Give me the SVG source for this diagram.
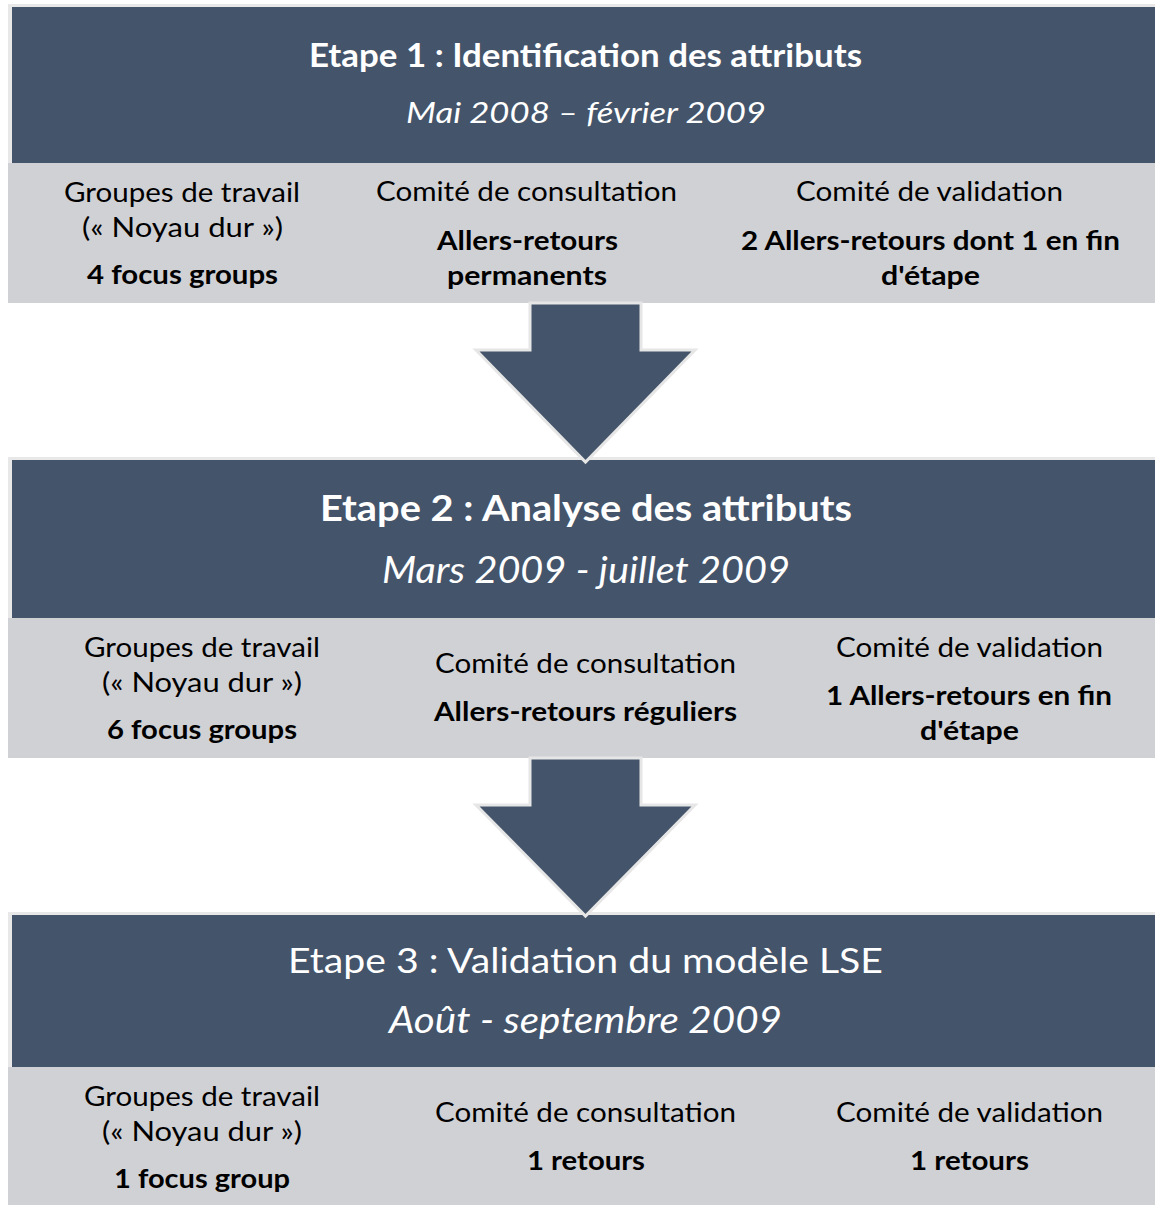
<svg xmlns="http://www.w3.org/2000/svg" width="1155" height="1205" viewBox="0 0 1155 1205">
<style>
text{font-family:Lato,"Open Sans","Liberation Sans",sans-serif;text-anchor:middle}
.frame{fill:#e8e8e8}
.head{fill:#44546a}
.band{fill:#d0d1d5}
.t{fill:#ffffff}
.b{font-weight:bold}
.i{font-style:italic}
.g{fill:#000000;font-size:26px}
.arrow{fill:#44546a;stroke:#e6e6e6;stroke-width:3;stroke-linejoin:miter}
</style>
<rect width="1155" height="1205" fill="#ffffff"/>

<g id="etape1">
<rect class="frame" x="8" y="4" width="1147" height="160"/>
<rect class="head" x="12" y="7" width="1143" height="156"/>
<rect class="band" x="8" y="163" width="1147" height="140"/>
<text class="t b" x="585.5" y="67" font-size="32" textLength="553" lengthAdjust="spacingAndGlyphs">Etape 1 : Identification des attributs</text>
<text class="t i" x="586" y="123" font-size="28" textLength="360" lengthAdjust="spacingAndGlyphs">Mai 2008 – février 2009</text>
<text class="g" x="182" y="202" textLength="236" lengthAdjust="spacingAndGlyphs">Groupes de travail</text>
<text class="g" x="182.5" y="237" textLength="201" lengthAdjust="spacingAndGlyphs">(« Noyau dur »)</text>
<text class="g b" x="182.5" y="284" textLength="191" lengthAdjust="spacingAndGlyphs">4 focus groups</text>
<text class="g" x="526.5" y="201" textLength="301" lengthAdjust="spacingAndGlyphs">Comité de consultation</text>
<text class="g b" x="527.5" y="250" textLength="181" lengthAdjust="spacingAndGlyphs">Allers-retours</text>
<text class="g b" x="527" y="285" textLength="160" lengthAdjust="spacingAndGlyphs">permanents</text>
<text class="g" x="929.5" y="201" textLength="267" lengthAdjust="spacingAndGlyphs">Comité de validation</text>
<text class="g b" x="930.5" y="250" textLength="379" lengthAdjust="spacingAndGlyphs">2 Allers-retours dont 1 en fin</text>
<text class="g b" x="930.5" y="285" textLength="99" lengthAdjust="spacingAndGlyphs">d'étape</text>
</g>

<g id="etape2">
<rect class="frame" x="8" y="457" width="1147" height="162"/>
<rect class="head" x="12" y="460" width="1143" height="158"/>
<rect class="band" x="8" y="618" width="1147" height="140"/>
<text class="t b" x="586" y="521" font-size="36" textLength="532" lengthAdjust="spacingAndGlyphs">Etape 2 : Analyse des attributs</text>
<text class="t i" x="586" y="583" font-size="36" textLength="408" lengthAdjust="spacingAndGlyphs">Mars 2009 - juillet 2009</text>
<text class="g" x="202" y="657" textLength="236" lengthAdjust="spacingAndGlyphs">Groupes de travail</text>
<text class="g" x="202" y="692" textLength="200" lengthAdjust="spacingAndGlyphs">(« Noyau dur »)</text>
<text class="g b" x="202" y="739" textLength="190" lengthAdjust="spacingAndGlyphs">6 focus groups</text>
<text class="g" x="585.5" y="673" textLength="301" lengthAdjust="spacingAndGlyphs">Comité de consultation</text>
<text class="g b" x="585.5" y="721" textLength="303" lengthAdjust="spacingAndGlyphs">Allers-retours réguliers</text>
<text class="g" x="969.5" y="657" textLength="267" lengthAdjust="spacingAndGlyphs">Comité de validation</text>
<text class="g b" x="969" y="705" textLength="286" lengthAdjust="spacingAndGlyphs">1 Allers-retours en fin</text>
<text class="g b" x="969.5" y="740" textLength="99" lengthAdjust="spacingAndGlyphs">d'étape</text>
</g>

<g id="etape3">
<rect class="frame" x="8" y="912" width="1147" height="156"/>
<rect class="head" x="12" y="915" width="1143" height="152"/>
<rect class="band" x="8" y="1067" width="1147" height="138"/>
<text class="t" x="585.5" y="973" font-size="35" textLength="595" lengthAdjust="spacingAndGlyphs">Etape 3 : Validation du modèle LSE</text>
<text class="t i" x="585.5" y="1033" font-size="36" textLength="393" lengthAdjust="spacingAndGlyphs">Août - septembre 2009</text>
<text class="g" x="202" y="1106" textLength="236" lengthAdjust="spacingAndGlyphs">Groupes de travail</text>
<text class="g" x="202" y="1141" textLength="200" lengthAdjust="spacingAndGlyphs">(« Noyau dur »)</text>
<text class="g b" x="202" y="1188" textLength="176" lengthAdjust="spacingAndGlyphs">1 focus group</text>
<text class="g" x="585.5" y="1122" textLength="301" lengthAdjust="spacingAndGlyphs">Comité de consultation</text>
<text class="g b" x="586" y="1170" textLength="118" lengthAdjust="spacingAndGlyphs">1 retours</text>
<text class="g" x="969.5" y="1122" textLength="267" lengthAdjust="spacingAndGlyphs">Comité de validation</text>
<text class="g b" x="969.5" y="1170" textLength="119" lengthAdjust="spacingAndGlyphs">1 retours</text>
</g>

<g id="connectors">
<polygon class="arrow" points="530,303 641,303 641,350 695,350 585.5,462 476,350 530,350"/>
<polygon class="arrow" points="530,758 641,758 641,805 695,805 585.5,916 476,805 530,805"/>
</g>
</svg>
